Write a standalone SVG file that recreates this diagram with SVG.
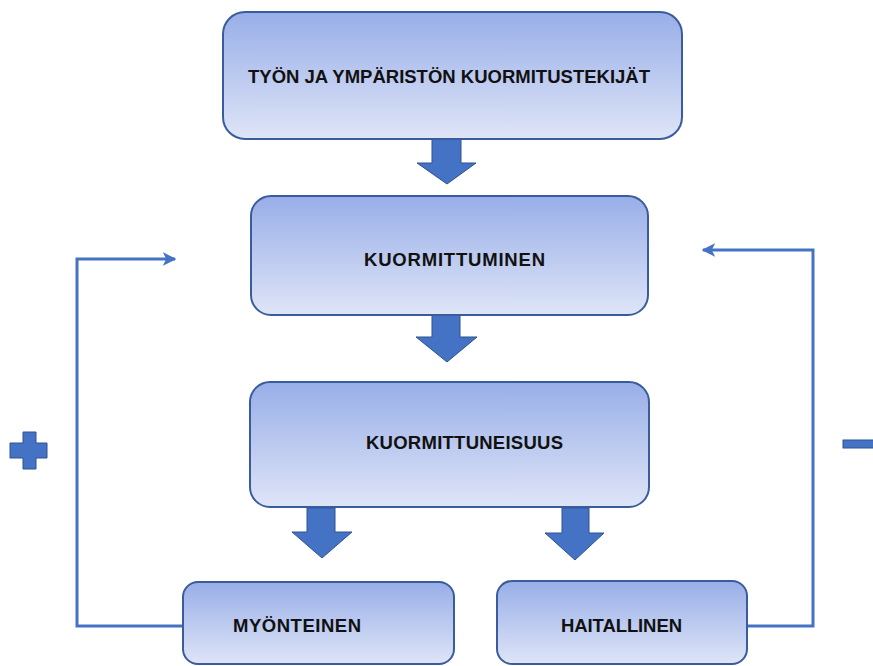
<svg xmlns="http://www.w3.org/2000/svg" width="873" height="666" viewBox="0 0 873 666">
<defs>
<linearGradient id="g" x1="0" y1="0" x2="0" y2="1">
<stop offset="0" stop-color="#98AEE8"/>
<stop offset="1" stop-color="#DFE5F7"/>
</linearGradient>
<marker id="ah" viewBox="0 0 10 10" refX="9" refY="5" markerWidth="4.5" markerHeight="4.5" orient="auto" markerUnits="strokeWidth">
<path d="M0,0 L10,5 L0,10 L2.5,5 Z" fill="#4472C4"/>
</marker>
<style>
.box{fill:url(#g);stroke:#3B5C9C;stroke-width:2}
.lbl{font-family:"Liberation Sans",Arial,sans-serif;font-weight:bold;font-size:18.5px;fill:#111}
.blk{fill:#4472C4;stroke:#2F528F;stroke-width:1}
.fb{fill:none;stroke:#4472C4;stroke-width:3}
</style>
</defs>
<rect width="873" height="666" fill="#fff"/>
<g id="connectors">
<path class="blk" d="M432,139 H461 V163 H476 L447,184 L417,163 H432 Z"/>
<path class="blk" d="M432,315 H460 V337 H477 L447,362 L416,337 H432 Z"/>
<path class="blk" d="M307,508 H335 V532 H352 L322,558 L292,532 H307 Z"/>
<path class="blk" d="M562,508 H589 V533 H604 L575,560 L545,533 H562 Z"/>
<path class="fb" d="M183,626 H77 V259 H175" marker-end="url(#ah)"/>
<path class="fb" d="M747,626 H813 V250 H703" marker-end="url(#ah)"/>
</g>
<g id="node-top">
<rect class="box" x="223" y="12" width="459" height="127" rx="22"/>
<text class="lbl" x="248" y="83" textLength="402">TYÖN JA YMPÄRISTÖN KUORMITUSTEKIJÄT</text>
</g>
<g id="node-kuormittuminen">
<rect class="box" x="251" y="196" width="397" height="119" rx="20"/>
<text class="lbl" x="364" y="266" textLength="181">KUORMITTUMINEN</text>
</g>
<g id="node-kuormittuneisuus">
<rect class="box" x="250" y="382" width="399" height="125" rx="20"/>
<text class="lbl" x="366" y="449" textLength="197">KUORMITTUNEISUUS</text>
</g>
<g id="node-myonteinen">
<rect class="box" x="183" y="582" width="271" height="82" rx="15"/>
<text class="lbl" x="233" y="632" textLength="128">MYÖNTEINEN</text>
</g>
<g id="node-haitallinen">
<rect class="box" x="497" y="581" width="250" height="83" rx="15"/>
<text class="lbl" x="561" y="632" textLength="121">HAITALLINEN</text>
</g>
<g id="signs">
<path class="blk" d="M23,432 H36 V443 H47 V458 H36 V469 H23 V458 H10 V443 H23 Z"/>
<rect class="blk" x="843" y="440" width="40" height="8"/>
</g>
</svg>
